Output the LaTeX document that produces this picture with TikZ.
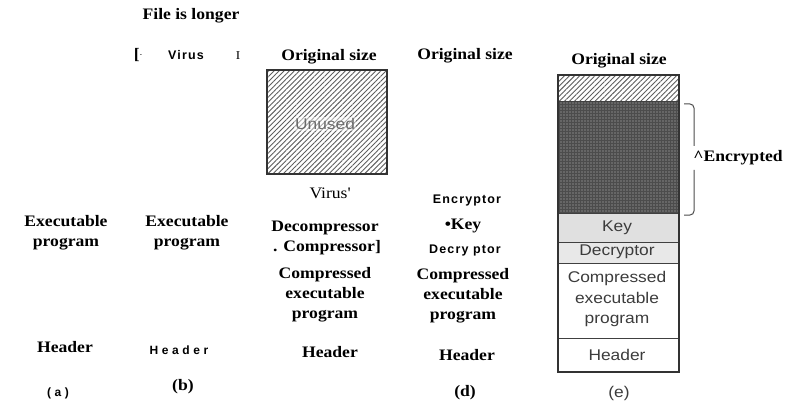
\documentclass[tikz,border=0pt]{standalone}
\usepackage{fontspec}
\setmainfont{Liberation Serif}[FakeStretch=1.1]
\newfontfamily\boxsans{Liberation Sans}[FakeStretch=1.12]
\newfontfamily\spsans{Liberation Sans}[LetterSpace=9]
\newfontfamily\widesans{Liberation Sans}[LetterSpace=30]
\usetikzlibrary{patterns.meta}
\definecolor{boxtxt}{HTML}{3C3C3C}
\definecolor{hatchcol}{HTML}{5E5E5E}
\tikzset{
  lbl/.style={font=\fontsize{16}{20}\selectfont\bfseries, align=center, inner sep=0pt},
  plain/.style={font=\fontsize{16}{20}\selectfont, align=center, inner sep=0pt},
  small/.style={font=\fontsize{12.5}{14}\spsans\bfseries, inner sep=0pt},
  wide/.style={font=\fontsize{12}{14}\widesans\bfseries, inner sep=0pt},
  boxlbl/.style={font=\fontsize{15.5}{20.5}\boxsans, text=boxtxt, align=center, inner sep=0pt},
  hatched/.style={fill=gray!12, pattern={Lines[angle=45,distance=3.6pt,line width=0.9pt]}, pattern color=hatchcol},
  frame/.style={draw=black!80, line width=1.1pt},
  sep/.style={draw=black!75, line width=1pt},
  brace/.style={draw=black!70, line width=1pt, rounded corners=4pt}
}
\begin{document}
\begin{tikzpicture}[x=1pt,y=-1pt]
\useasboundingbox (0,0) rectangle (792,406);

% ---- column (a)
\node[lbl] (aexe) at (66,233) {Executable\\program};
\node[lbl] (ahead) at (65,347) {Header};
\node[wide] (acap) at (58,393) {(a)};

% ---- column (b)
\node[lbl] (longer) at (191,16) {File is longer};
\node[lbl] (bbrk) at (138,55) {[\raisebox{3pt}{\fontsize{6}{6}\selectfont -}};
\node[small] (bvirus) at (186,55) {Virus};
\node[plain, font=\fontsize{12}{14}\selectfont] (bbar) at (238,56) {I};
\node[lbl] (bexe) at (187,233) {Executable\\program};
\node[wide] (bhead) at (179,350) {Header};
\node[lbl] (bcap) at (183,387) {(b)};

% ---- column (c)
\node[lbl] (corig) at (329,57) {Original size};
\path[hatched] (267,70) rectangle (387,174);
\draw[frame] (267,70) rectangle (387,174);
\node[boxlbl, text=black!58, fill=white, fill opacity=0.45, text opacity=1, inner sep=1pt] (cunused) at (325,124) {Unused};
\node[plain] (cvirus) at (330,193) {Virus\textquotesingle};
\node[lbl] (cdecomp) at (325,228) {Decompressor};
\node[lbl] (ccomp) at (327,248) {. Compressor]};
\node[lbl] (cprog) at (325,295) {Compressed\\executable\\program};
\node[lbl] (chead) at (330,352) {Header};

% ---- column (d)
\node[lbl] (dorig) at (465,56) {Original size};
\node[small] (dencr) at (467,200) {Encryptor};
\node[lbl] (dkey) at (463,226) {\textbullet Key};
\node[small] (ddecr) at (465,250) {Decry ptor};
\node[lbl] (dprog) at (463,296) {Compressed\\executable\\program};
\node[lbl] (dhead) at (467,355) {Header};
\node[lbl] (dcap) at (465,393) {(d)};

% ---- column (e)
\node[lbl] (eorig) at (619,61) {Original size};
\path[hatched] (558,75) rectangle (679,102);
\fill[black!70] (558,102) rectangle (679,213);
\path[pattern={Dots[distance=3pt,radius=0.55pt]}, pattern color=gray!50] (558,102) rectangle (679,213);
\fill[gray!24] (558,213) rectangle (679,242);
\fill[gray!18] (558,242) rectangle (679,263);
\draw[sep] (558,102) -- (679,102);
\draw[sep] (558,213) -- (679,213);
\draw[sep] (558,242) -- (679,242);
\draw[sep] (558,263) -- (679,263);
\draw[sep] (558,338) -- (679,338);
\draw[frame] (558,75) rectangle (679,372);
\node[boxlbl] (ekey) at (617,228) {Key};
\node[boxlbl] (edecr) at (617,252) {Decryptor};
\node[boxlbl] (eprog) at (617,299) {Compressed\\executable\\program};
\node[boxlbl] (ehead) at (617,355) {Header};
\node[boxlbl] (ecap) at (619,393) {(e)};

% bracket
\node[lbl] (encr) at (738,158) {\^{}Encrypted};
\coordinate (btop) at (684,104);
\coordinate (btopc) at (694,104);
\coordinate (bmidt) at (694,146);
\coordinate (bmidb) at (694,170);
\coordinate (botc) at (694,215);
\coordinate (bbot) at (684,215);
\draw[brace] (btop) -- (btopc) -- (bmidt);
\draw[brace] (bmidb) -- (botc) -- (bbot);
\end{tikzpicture}
\end{document}
